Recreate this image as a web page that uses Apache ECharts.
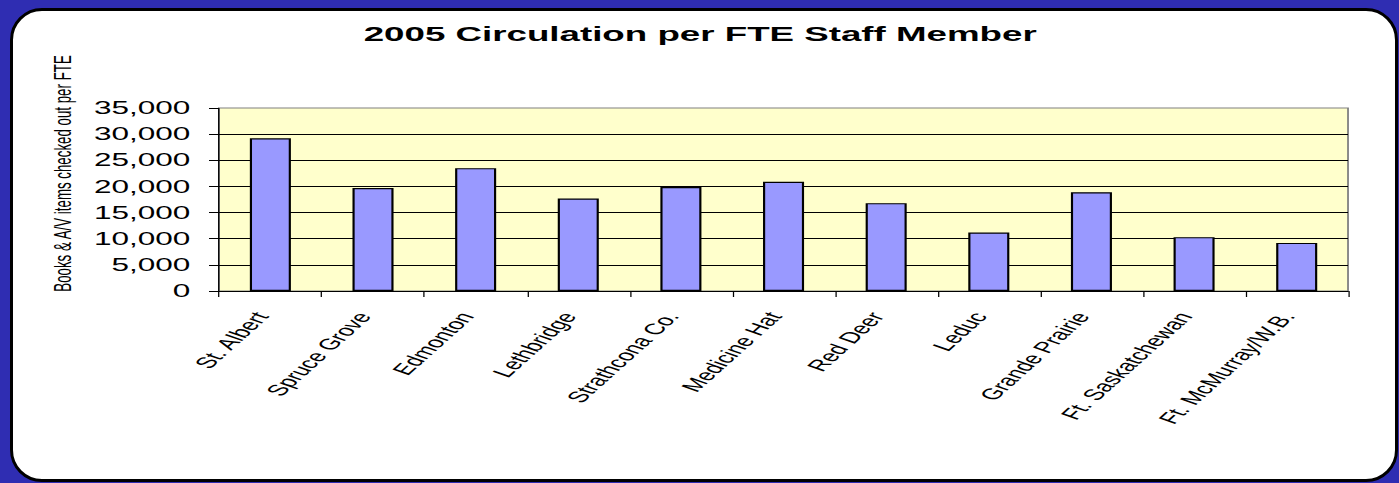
<!DOCTYPE html>
<html>
<head>
<meta charset="utf-8">
<script src="https://cdn.jsdelivr.net/npm/echarts@6/dist/echarts.min.js"></script>
<style>
  html, body { margin: 0; padding: 0; width: 1399px; height: 483px; overflow: hidden; background: #2F2DB2; }
  #panel { position: absolute; left: 10px; top: 8px; width: 1382px; height: 468px; background: #ffffff; border: 3px solid #000; border-radius: 32px; }
  #chart { position: absolute; left: 0; top: 0; width: 777px; height: 483px; transform: scaleX(1.8); transform-origin: 0 0; }
</style>
</head>
<body>
<div id="panel"></div>
<div id="chart"></div>
<script>
const titleText = '2005 Circulation per FTE Staff Member';
const yAxisTitle = 'Books & A/V items checked out per FTE';
const categories = ['St. Albert', 'Spruce Grove', 'Edmonton', 'Lethbridge', 'Strathcona Co.', 'Medicine Hat', 'Red Deer', 'Leduc', 'Grande Prairie', 'Ft. Saskatchewan', 'Ft. McMurray/W.B.'];
const circulation = [29200, 19700, 23500, 17700, 19900, 20900, 16800, 11200, 18900, 10300, 9200];
const yTicks = [0, 5000, 10000, 15000, 20000, 25000, 30000, 35000];

const fontFam = '"Liberation Sans", Arial, sans-serif';

// Drawn in a narrower box and stretched horizontally, like the reference picture.
const chart = echarts.init(document.getElementById('chart'), null, { renderer: 'svg' });
chart.setOption({
  animation: false,
  title: {
    text: titleText,
    left: 384, top: 19,
    textAlign: 'center',
    textStyle: { fontFamily: fontFam, fontWeight: 'bold', fontSize: 20.4, color: '#000' }
  },
  grid: {
    left: 121.7, right: 28.1, top: 108, bottom: 192,
    show: true, backgroundColor: '#FFFFCC', borderColor: '#808080', borderWidth: 1
  },
  xAxis: {
    type: 'category',
    data: categories,
    axisLine: { lineStyle: { color: '#000', width: 1 } },
    axisTick: { show: true, length: 6, lineStyle: { color: '#000', width: 0.7 } },
    axisLabel: {
      interval: 0, rotate: 58, margin: 15, padding: [0, 9, 0, 0],
      fontFamily: fontFam, fontSize: 15.5, color: '#000'
    }
  },
  yAxis: {
    type: 'value',
    min: yTicks[0], max: yTicks[yTicks.length - 1], interval: 5000,
    name: yAxisTitle,
    nameLocation: 'middle',
    nameGap: 77,
    nameTextStyle: { fontFamily: fontFam, fontSize: 13.3, color: '#000', padding: [0, 0, 0, 52] },
    axisLine: { show: true, lineStyle: { color: '#000', width: 0.7 } },
    axisTick: { show: true, length: 5.6, lineStyle: { color: '#000', width: 1 } },
    axisLabel: {
      margin: 16, fontFamily: fontFam, fontSize: 17.5, color: '#000',
      formatter: v => v.toLocaleString('en-US')
    },
    splitLine: { show: true, showMinLine: false, showMaxLine: false, lineStyle: { color: '#000', width: 1 } }
  },
  series: [{
    type: 'bar',
    data: circulation,
    barCategoryGap: '60%',
    itemStyle: { color: '#9999FF', borderColor: '#000', borderWidth: 1.2 }
  }]
});
</script>
</body>
</html>
